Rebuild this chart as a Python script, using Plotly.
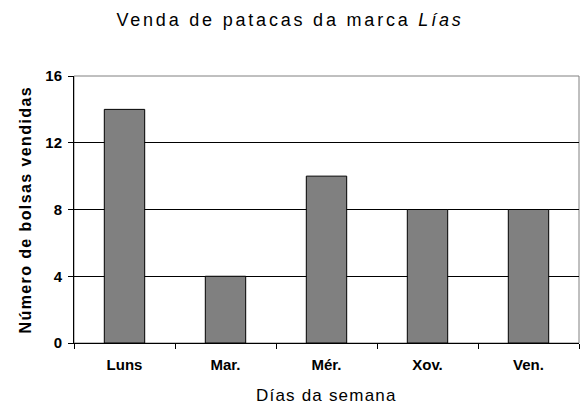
import plotly.graph_objects as go

days = ["Luns", "Mar.", "Mér.", "Xov.", "Ven."]
sold = [14, 4, 10, 8, 8]
y_ticks = [0, 4, 8, 12, 16]

FONT = "Arial, 'Liberation Sans', sans-serif"

fig = go.Figure(go.Bar(
    x=days, y=sold,
    marker=dict(color="#808080", line=dict(color="#000000", width=1)),
))

W, H = 580, 405
L, R, T, B = 74, 1, 76, 62
ph = H - T - B

fig.update_layout(
    width=W, height=H,
    margin=dict(l=L, r=R, t=T, b=B),
    paper_bgcolor="white", plot_bgcolor="white",
    bargap=0.6,
    showlegend=False,
    font=dict(family=FONT, color="#000000"),
    title=dict(
        text='<span style="letter-spacing:2.8px">Venda de patacas da marca <i>Lías</i></span>',
        x=0.5, xref="container", xanchor="center",
        y=1 - 20 / H, yref="container", yanchor="middle",
        font=dict(family=FONT, size=18, color="#000000"),
    ),
    xaxis=dict(
        showline=True, linecolor="#000000", linewidth=1,
        ticks="outside", tickson="boundaries", ticklen=5, tickcolor="#000000",
        tickfont=dict(family=FONT, size=15, color="#000000", weight="bold"),
        ticklabelstandoff=8,
        showgrid=False, zeroline=False,
    ),
    yaxis=dict(
        range=[0, 16], tickvals=y_ticks,
        showline=True, linecolor="#000000", linewidth=1,
        ticks="outside", ticklen=5, tickcolor="#000000",
        tickfont=dict(family=FONT, size=15, color="#000000", weight="bold"),
        ticklabelstandoff=3,
        showgrid=True, gridcolor="#000000", gridwidth=1,
        zeroline=False,
    ),
    shapes=[dict(type="rect", xref="paper", yref="paper", x0=0, x1=1, y0=0, y1=1,
                 line=dict(color="#808080", width=1), layer="below")],
    annotations=[
        dict(text='<span style="letter-spacing:1.2px">Días da semana</span>',
             xref="paper", yref="paper", x=0.5, y=-(395 - (H - B)) / ph,
             xanchor="center", yanchor="middle", showarrow=False,
             font=dict(family=FONT, size=17, color="#000000")),
        dict(text='<span style="letter-spacing:1.4px">Número de bolsas vendidas</span>',
             xref="paper", yref="paper", x=-(L - 25) / (W - L - R), y=0.5,
             textangle=-90, xanchor="center", yanchor="middle", showarrow=False,
             font=dict(family=FONT, size=16, color="#000000", weight="bold")),
    ],
)

fig.write_html(
    "out.html",
    config={"displayModeBar": False},
    post_script="document.body.style.margin='0';document.body.style.overflow='hidden';",
)
